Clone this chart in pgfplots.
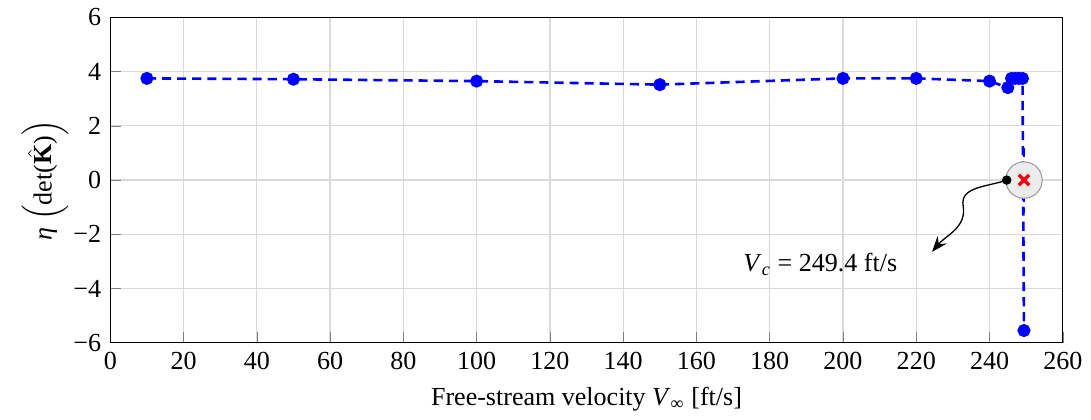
\documentclass[border=0pt]{standalone}
\usepackage{fontspec}
\setmainfont{Liberation Serif}
\usepackage{pgfplots}
\pgfplotsset{compat=1.18}
\usetikzlibrary{arrows.meta}
\begin{document}
\begin{tikzpicture}
\begin{axis}[
  scale only axis,
  width=366pt, height=125pt,
  xmin=0, xmax=260, ymin=-6, ymax=6,
  xtick={0,20,...,260}, ytick={-6,-4,...,6},
  yticklabels={−6,−4,−2,0,2,4,6},
  /pgf/number format/assume math mode=true,
  grid=major, major grid style={gray!30, line width=0.5pt},
  tick pos=left, tick align=inside,
  xlabel={Free-stream velocity \textit{V}\textsubscript{∞} [ft/s]},
  ylabel={\textit{η} $\Bigl($det($\hat{\mathbf{K}}$)$\Bigr)$},
  ylabel style={yshift=-5pt},
  clip=false,
]
\addplot[blue, line width=1pt, dash pattern=on 3.5pt off 2.3pt,
  mark=*, mark size=2pt, mark options={solid, fill=blue}]
  coordinates {
  (10,3.75) (50,3.72) (100,3.65) (150,3.52) (200,3.75) (220,3.75)
  (240,3.65) (245,3.41) (246,3.75) (247,3.75) (248,3.75) (249,3.75)
  (249.4,-5.55)
  };
\addplot[only marks, mark=*, mark size=7pt, draw=gray!80, fill=gray!15, line width=0.4pt]
  coordinates {(249.4,0)};
\addplot[blue, line width=1pt, dash pattern=on 3.5pt off 2.3pt]
  coordinates {(249.4,1.2) (249.4,-1.2)};
\addplot[only marks, mark=x, mark size=2.8pt, red, line width=1.3pt]
  coordinates {(249.4,0)};
\addplot[only marks, mark=*, mark size=1.6pt, black]
  coordinates {(244.7,0)};
\draw[-{Stealth[length=6pt]}, line width=0.5pt]
  (axis cs:244.7,0) to[out=200,in=100] (axis cs:232.8,-0.95)
  to[out=-80,in=50] (axis cs:224.3,-2.65);
\node at (axis cs:193.8,-3.1) {\textit{V}\textsubscript{\textit{c}} = 249.4 ft/s};
\end{axis}
\path ([xshift=-5pt]current bounding box.west) -- (current bounding box.east);
\end{tikzpicture}
\end{document}
